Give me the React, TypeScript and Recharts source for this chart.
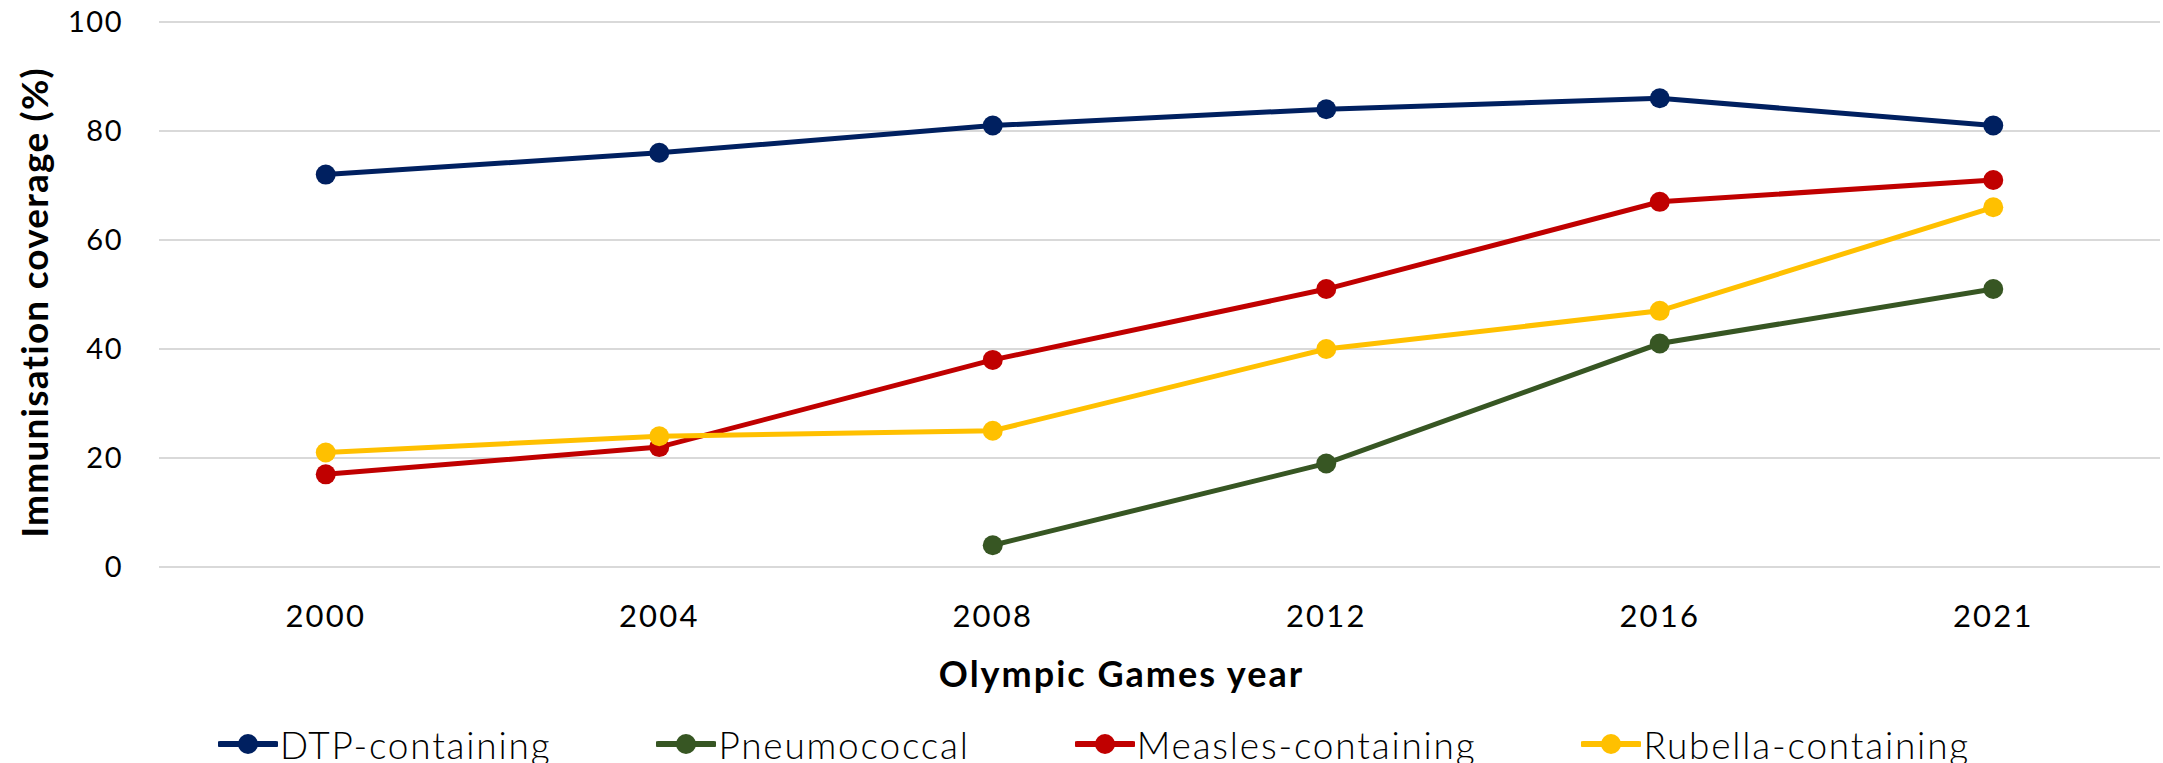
import React from "react";
import { LineChart, Line, CartesianGrid, XAxis, YAxis, Legend, Label } from "recharts";

const years = ["2000", "2004", "2008", "2012", "2016", "2021"];
const dtp = [72, 76, 81, 84, 86, 81];
const pneumococcal = [null, null, 4, 19, 41, 51];
const measles = [17, 22, 38, 51, 67, 71];
const rubella = [21, 24, 25, 40, 47, 66];
const yTicks = [0, 20, 40, 60, 80, 100];

const series = [
  { key: "dtp", name: "DTP-containing", color: "#002060" },
  { key: "pneumococcal", name: "Pneumococcal", color: "#375623" },
  { key: "measles", name: "Measles-containing", color: "#C00000" },
  { key: "rubella", name: "Rubella-containing", color: "#FFC000" }
];

const data = years.map((year, i) => ({
  year,
  dtp: dtp[i],
  pneumococcal: pneumococcal[i],
  measles: measles[i],
  rubella: rubella[i]
}));

const FONT = "Lato, 'Open Sans', sans-serif";

// legend with line + dot markers, spaced like the original
const LegendContent = () => (
  <div
    style={{
      height: 50,
      boxSizing: "border-box",
      paddingTop: 12,
      paddingLeft: 28,
      display: "flex",
      justifyContent: "center",
      alignItems: "center",
      gap: 105,
      fontFamily: FONT,
      fontWeight: 300,
      fontSize: 37,
      letterSpacing: 1.8,
      color: "#000"
    }}
  >
    {series.map((s) => (
      <div key={s.key} style={{ display: "flex", alignItems: "center" }}>
        <svg width={60} height={24} style={{ marginRight: 2 }}>
          <line x1={2} y1={12} x2={58} y2={12} stroke={s.color} strokeWidth={6} strokeLinecap="round" />
          <circle cx={30} cy={12} r={10} fill={s.color} />
        </svg>
        <span style={{ lineHeight: 1 }}>{s.name}</span>
      </div>
    ))}
  </div>
);

const XTitle = ({ viewBox }: any) => {
  const { x, y, width } = viewBox;
  return (
    <text
      x={x + width / 2 - 38}
      y={y + 120}
      textAnchor="middle"
      fontFamily={FONT}
      fontWeight={700}
      fontSize={36}
      letterSpacing={2}
      fill="#000"
    >
      Olympic Games year
    </text>
  );
};

const YTitle = ({ viewBox }: any) => {
  const { y, height } = viewBox;
  const cx = 33;
  const cy = y + height / 2 + 8;
  return (
    <text
      x={cx}
      y={cy}
      transform={`rotate(-90, ${cx}, ${cy})`}
      textAnchor="middle"
      dominantBaseline="central"
      fontFamily={FONT}
      fontWeight={700}
      fontSize={37}
      letterSpacing={1.2}
      fill="#000"
    >
      Immunisation coverage (%)
    </text>
  );
};

export default function App() {
  return (
    <div style={{ position: "absolute", left: 0, top: 0, width: 2163, height: 763, background: "#fff" }}>
      <LineChart width={2163} height={763} data={data} margin={{ top: 22, right: 3, left: 0, bottom: 0 }}>
        <CartesianGrid vertical={false} stroke="#d9d9d9" strokeWidth={2} />
        <XAxis
          dataKey="year"
          scale="band"
          axisLine={false}
          tickLine={false}
          height={146}
          tickMargin={32}
          tick={{ fontFamily: FONT, fontSize: 31, fill: "#000", letterSpacing: 2.2 }}
        >
          <Label content={<XTitle />} />
        </XAxis>
        <YAxis
          domain={[0, 100]}
          ticks={yTicks}
          width={159}
          axisLine={false}
          tickLine={false}
          tickMargin={30}
          tick={{ fontFamily: FONT, fontSize: 29, fill: "#000", letterSpacing: 1.5 }}
        >
          <Label content={<YTitle />} />
        </YAxis>
        <Legend verticalAlign="bottom" content={<LegendContent />} />
        {series.map((s) => (
          <Line
            key={s.key}
            dataKey={s.key}
            name={s.name}
            stroke={s.color}
            strokeWidth={5}
            dot={{ r: 10, fill: s.color, stroke: "none" }}
            activeDot={false}
            connectNulls={false}
            isAnimationActive={false}
          />
        ))}
      </LineChart>
    </div>
  );
}
